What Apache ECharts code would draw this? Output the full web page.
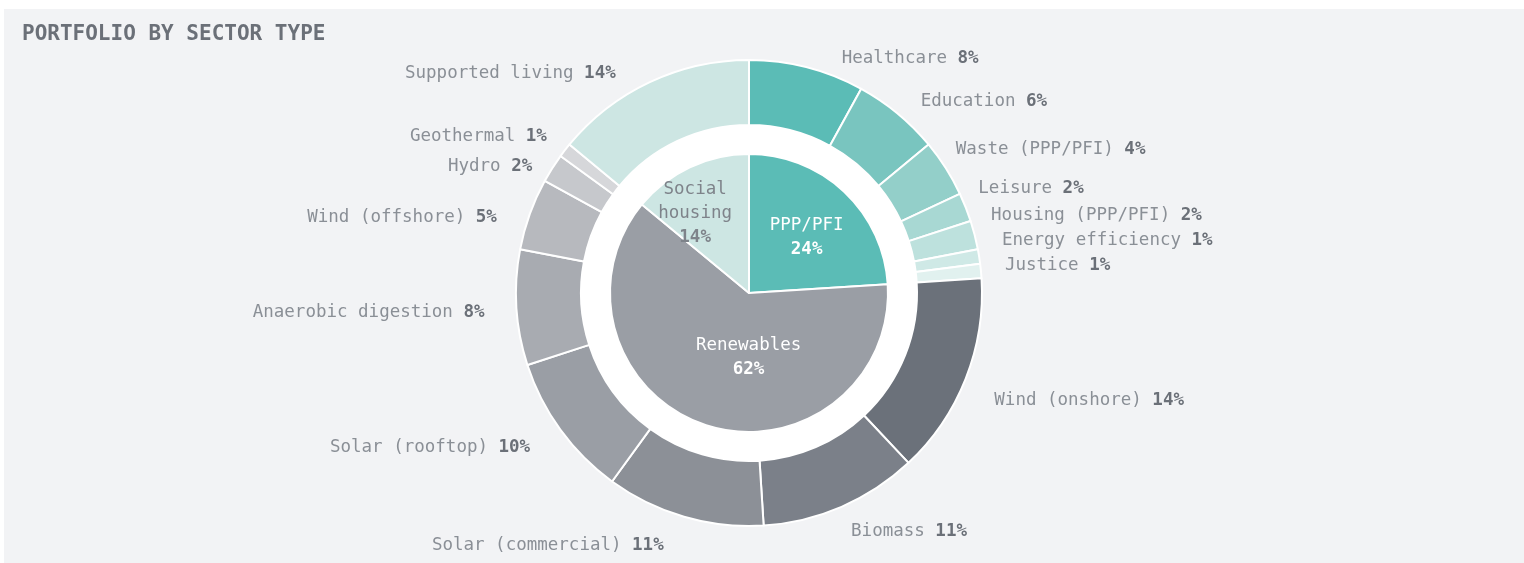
<!DOCTYPE html>
<html>
<head>
<meta charset="utf-8">
<title>Portfolio by sector type</title>
<script src="https://cdn.jsdelivr.net/npm/echarts@6/dist/echarts.min.js"></script>
<style>
  html, body { margin: 0; padding: 0; background: #fff; }
  #chart { position: absolute; left: 4px; top: 9px; width: 1520px; height: 554px; }
</style>
</head>
<body>
<div id="chart"></div>
<script>
// sector split (inner pie)
const sectorNames = ['PPP/PFI', 'Renewables', 'Social housing'];
const sectorValues = [24, 62, 14];

// sub sectors (outer ring), same clockwise order
const subNames = [
  'Healthcare', 'Education', 'Waste (PPP/PFI)', 'Leisure', 'Housing (PPP/PFI)',
  'Energy efficiency', 'Justice',
  'Wind (onshore)', 'Biomass', 'Solar (commercial)', 'Solar (rooftop)',
  'Anaerobic digestion', 'Wind (offshore)', 'Hydro', 'Geothermal',
  'Supported living'
];
const subValues = [8, 6, 4, 2, 2, 1, 1, 14, 11, 11, 10, 8, 5, 2, 1, 14];

const sectorColors = ['#5bbcb6', '#9a9ea5', '#cde6e3'];
const subColors = [
  '#5bbcb6', '#79c5bf', '#93cfc9', '#a8d8d3', '#bde1dd', '#cfe9e6', '#e1f1ef',
  '#6b717a', '#7b8089', '#8c9097', '#9a9ea5', '#a8abb1', '#b7b9be', '#c6c8cc', '#d6d7da',
  '#cde6e3'
];
// small nudges so the labels sit like the original
const innerLabelShift = [[8, -3], [22, -4], [-23, -14]];
const outerLabelShift = [
  [15, 0], [-4, -7], [-21, -19], [-20, -22], [-17, -25], [-11, -23], [-10, -14],
  [-4, 5], [-13, -3], [0, 0], [0, -4], [2, -6], [0, 0], [11, -2], [12, -12],
  [-11, -2]
];

const mono = '"DejaVu Sans Mono", "Liberation Mono", monospace';
const center = [745, 284];

const chart = echarts.init(document.getElementById('chart'));

chart.setOption({
  backgroundColor: '#f2f3f5',
  animation: false,
  title: {
    text: 'PORTFOLIO BY SECTOR TYPE',
    left: 13,
    top: 10,
    textStyle: {
      fontFamily: mono,
      fontSize: 21,
      fontWeight: 'bold',
      color: '#6b7078'
    }
  },
  series: [
    {
      // white disc behind both rings
      type: 'pie',
      center,
      radius: [0, 168],
      silent: true,
      label: { show: false },
      labelLine: { show: false },
      itemStyle: { color: '#fff' },
      data: [{ value: 1, name: '' }]
    },
    {
      type: 'pie',
      center,
      radius: [0, 139],
      startAngle: 90,
      silent: true,
      itemStyle: { borderColor: '#fff', borderWidth: 2 },
      label: {
        position: 'inner',
        formatter: p => '{n|' + p.name.replace(' ', '\n') + '}\n{v|' + p.value + '%}',
        rich: {
          n: { fontFamily: mono, fontSize: 17.5, lineHeight: 24 },
          v: { fontFamily: mono, fontSize: 17.5, fontWeight: 'bold', lineHeight: 24 }
        }
      },
      labelLine: { show: false },
      data: sectorNames.map((name, i) => ({
        name,
        value: sectorValues[i],
        itemStyle: { color: sectorColors[i] },
        label: { color: i === 2 ? '#7e838a' : '#ffffff', offset: innerLabelShift[i] }
      }))
    },
    {
      type: 'pie',
      center,
      radius: [168, 233],
      startAngle: 90,
      silent: true,
      avoidLabelOverlap: false,
      itemStyle: { borderColor: '#fff', borderWidth: 2 },
      label: {
        position: 'outside',
        formatter: p => '{n|' + p.name + ' }{v|' + p.value + '%}',
        rich: {
          n: { fontFamily: mono, fontSize: 17.5, color: '#8a8f96', lineHeight: 26 },
          v: { fontFamily: mono, fontSize: 17.5, fontWeight: 'bold', color: '#6b7078', lineHeight: 26 }
        }
      },
      labelLine: { show: false, length: 19, length2: 10 },
      labelLayout: { dy: 10 },
      data: subNames.map((name, i) => ({
        name,
        value: subValues[i],
        itemStyle: { color: subColors[i] },
        label: { offset: outerLabelShift[i] }
      }))
    }
  ]
});
</script>
</body>
</html>
